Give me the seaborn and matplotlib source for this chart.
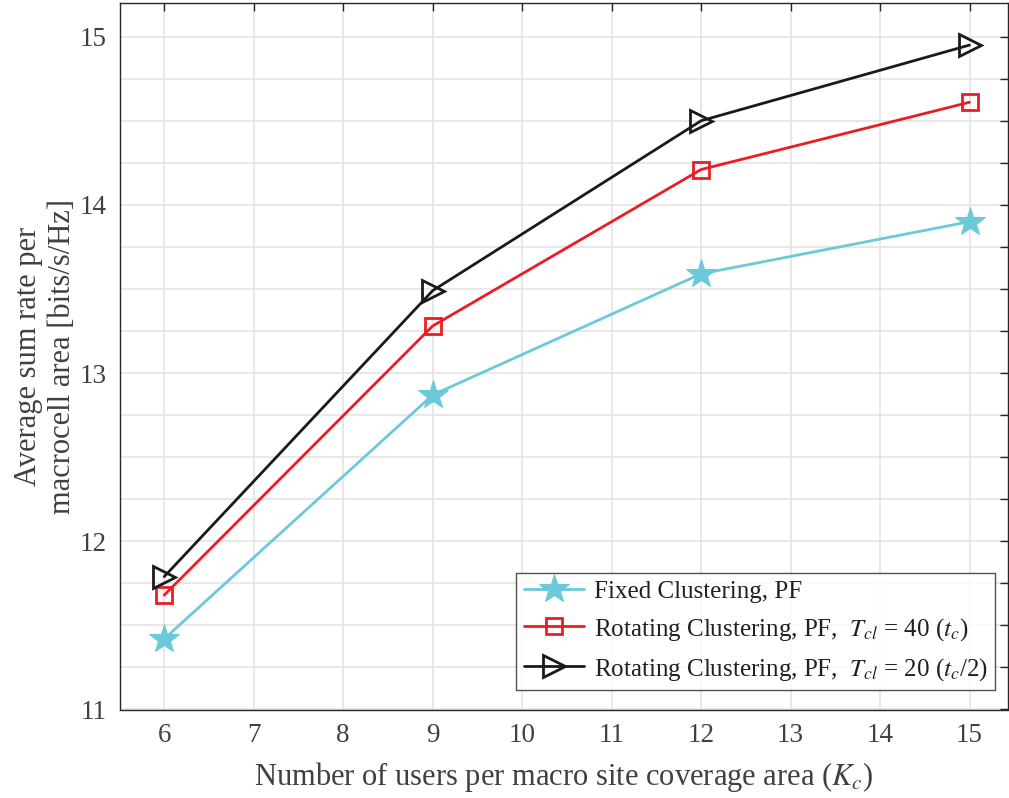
import numpy as np
import pandas as pd
import matplotlib
matplotlib.use('Agg')
import matplotlib.pyplot as plt
import seaborn as sns

# Data
users = [6, 9, 12, 15]
fixed_pf = [11.42, 12.87, 13.59, 13.90]
rot_40 = [11.68, 13.28, 14.21, 14.61]
rot_20 = [11.79, 13.49, 14.50, 14.95]

labels = ['Fixed Clustering, PF',
          r'Rotating Clustering, PF,  $T_{cl}$ = 40 ($t_c$)',
          r'Rotating Clustering, PF,  $T_{cl}$ = 20 ($t_c$/2)']

sns.set_style('white')
plt.rcParams['font.family'] = ['Liberation Serif', 'DejaVu Serif']
plt.rcParams['mathtext.fontset'] = 'stix'
text_col = '#404040'

fig = plt.figure(figsize=(10.09, 7.98), dpi=100)
ax = fig.add_axes([119.5 / 1009, 1 - 709.5 / 798, (1008 - 119.5) / 1009, (709.5 - 3) / 798])

styles = [
    dict(color='#6CC9DA', marker='*', markersize=22, markerfacecolor='#6CC9DA', markeredgecolor='#6CC9DA'),
    dict(color='#EC1C24', marker='s', markersize=11.5, markerfacecolor='none', markeredgecolor='#EC1C24', markeredgewidth=2),
    dict(color='#1A1A1A', marker='>', markersize=16, markerfacecolor='none', markeredgecolor='#1A1A1A', markeredgewidth=2),
]
for vals, lab, st in zip([fixed_pf, rot_40, rot_20], labels, styles):
    df = pd.DataFrame({'K': users, 'rate': vals})
    sns.lineplot(data=df, x='K', y='rate', ax=ax, label=lab, linewidth=2.0, **st)

ax.set_xlim(5.5, 15.43)
ax.set_ylim(11, 15.2)
ax.set_xticks(range(6, 16))
yt = np.arange(11, 15.01, 0.25)
ax.set_yticks(yt)
ax.set_yticklabels([f'{int(v)}' if v == int(v) else '' for v in yt])
ax.grid(True, color='#E2E2E2', linewidth=1.1)
ax.set_axisbelow(True)
ax.tick_params(direction='in', length=6, width=1, colors='#262626', labelcolor=text_col,
               labelsize=19.5, top=True, right=True)
ax.tick_params(axis='x', pad=10)
ax.tick_params(axis='y', pad=9)
for s in ax.spines.values():
    s.set_color('#262626')
    s.set_linewidth(1.0)

ax.set_xlabel(r'Number of users per macro site coverage area ($K_c$)', fontsize=22, color=text_col)
ax.set_ylabel('Average sum rate per\nmacrocell area [bits/s/Hz]', fontsize=22, color=text_col,
              linespacing=1.2)
ax.xaxis.set_label_coords(0.5, -0.071)
ax.yaxis.set_label_coords(-0.048, 0.5)

leg = ax.legend(loc='lower right', bbox_to_anchor=(0.9854, 0.0276), fontsize=18, frameon=True, fancybox=False,
                edgecolor='#262626', handlelength=2.4, handletextpad=0.4, borderpad=0.3, labelspacing=0.52,
                borderaxespad=0)
leg.get_frame().set_linewidth(1.0)
for t in leg.get_texts():
    t.set_color('#202020')

fig.savefig('out.png', dpi=100)
